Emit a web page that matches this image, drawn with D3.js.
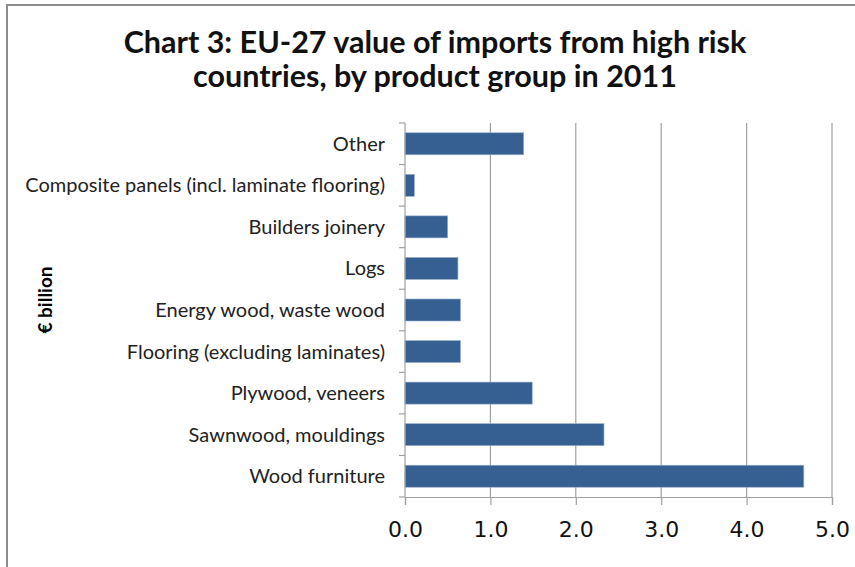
<!DOCTYPE html>
<html>
<head>
<meta charset="utf-8">
<script src="https://cdn.jsdelivr.net/npm/d3@7"></script>
<style>
  body { margin: 0; background: #fff; }
</style>
</head>
<body>
<svg id="chart"></svg>
<script>
const width = 855;
const height = 567;

// data (top to bottom)
const categories = ['Other', 'Composite panels (incl. laminate flooring)', 'Builders joinery', 'Logs',
                    'Energy wood, waste wood', 'Flooring (excluding laminates)', 'Plywood, veneers',
                    'Sawnwood, mouldings', 'Wood furniture'];
const values = [1.39, 0.11, 0.50, 0.62, 0.65, 0.65, 1.49, 2.33, 4.67];
const xTicks = [0, 1, 2, 3, 4, 5];
const titleLines = ['Chart 3: EU-27 value of imports from high risk', 'countries, by product group in 2011'];
const yTitle = '€ billion';

const plotLeft = 405, plotRight = 832, plotTop = 123, plotBottom = 497;

const svg = d3.select('#chart')
            .attr('width', width)
            .attr('height', height);

// chart frame
svg.append('rect')
    .attr('x', 7).attr('y', 5)
    .attr('width', width).attr('height', height)
    .attr('fill', '#fff')
    .attr('stroke', '#8c8c8c')
    .attr('stroke-width', 2);

const x = d3.scaleLinear().domain([0, 5]).range([plotLeft, plotRight]);
const y = d3.scaleBand().domain(categories).range([plotTop, plotBottom]).paddingInner(0.47).paddingOuter(0.235);
const yEdges = d3.scaleBand().domain(categories).range([plotTop, plotBottom]);

// gridlines
svg.append('g')
    .selectAll('line')
    .data(xTicks.slice(1))
    .join('line')
    .attr('x1', d => x(d)).attr('x2', d => x(d))
    .attr('y1', plotTop).attr('y2', plotBottom)
    .attr('stroke', '#a0a0a0')
    .attr('stroke-width', 1.2);

// bars
svg.append('g')
    .selectAll('rect')
    .data(categories)
    .join('rect')
    .attr('x', x(0))
    .attr('y', d => y(d))
    .attr('width', (d, i) => x(values[i]) - x(0))
    .attr('height', y.bandwidth())
    .attr('fill', '#376092')
    .attr('stroke', '#9bb1cf')
    .attr('stroke-width', 0.6);

// x axis
const xAxis = svg.append('g')
    .attr('transform', `translate(0, ${plotBottom})`)
    .call(d3.axisBottom(x).tickValues(xTicks).tickFormat(d3.format('.1f')).tickSize(8).tickPadding(16));
xAxis.select('.domain').attr('stroke', '#a0a0a0').attr('stroke-width', 1.2);
xAxis.selectAll('.tick line').attr('stroke', '#a0a0a0').attr('stroke-width', 1.2);
xAxis.selectAll('text')
    .attr('font-family', 'DejaVu Sans, Verdana, sans-serif')
    .attr('font-size', 22)
    .attr('fill', '#111');

// y axis line and ticks at band edges
svg.append('line')
    .attr('x1', plotLeft).attr('x2', plotLeft)
    .attr('y1', plotTop).attr('y2', plotBottom)
    .attr('stroke', '#a0a0a0').attr('stroke-width', 1.2);
const edges = categories.map(c => yEdges(c)).concat([plotBottom]);
svg.append('g')
    .selectAll('line')
    .data(edges)
    .join('line')
    .attr('x1', plotLeft - 6).attr('x2', plotLeft)
    .attr('y1', d => d).attr('y2', d => d)
    .attr('stroke', '#a0a0a0').attr('stroke-width', 1.2);

// category labels
svg.append('g')
    .selectAll('text')
    .data(categories)
    .join('text')
    .attr('x', plotLeft - 20)
    .attr('y', d => y(d) + y.bandwidth() / 2)
    .attr('dy', '0.35em')
    .attr('text-anchor', 'end')
    .attr('font-family', 'Lato, sans-serif')
    .attr('font-size', 20)
    .attr('fill', '#222')
    .text(d => d);

// y axis title
svg.append('text')
    .attr('transform', `translate(52, ${(plotTop + plotBottom) / 2 - 10}) rotate(-90)`)
    .attr('text-anchor', 'middle')
    .attr('font-family', 'Lato, sans-serif')
    .attr('font-weight', 'bold')
    .attr('font-size', 19)
    .attr('fill', '#000')
    .text(yTitle);

// title
svg.append('g')
    .selectAll('text')
    .data(titleLines)
    .join('text')
    .attr('x', 435)
    .attr('y', (d, i) => 53 + i * 34)
    .attr('text-anchor', 'middle')
    .attr('font-family', 'Lato, sans-serif')
    .attr('font-weight', 'bold')
    .attr('font-size', 30.5)
    .attr('fill', '#111')
    .text(d => d);
</script>
</body>
</html>
